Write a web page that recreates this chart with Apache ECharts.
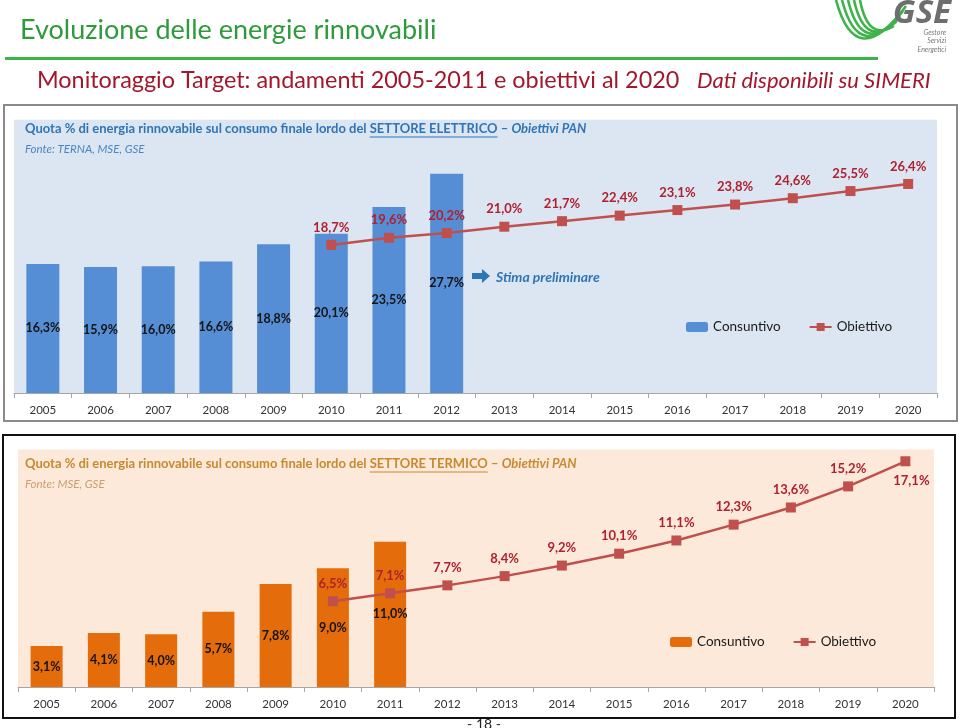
<!DOCTYPE html>
<html>
<head>
<meta charset="utf-8">
<script src="https://cdn.jsdelivr.net/npm/echarts@6/dist/echarts.min.js"></script>
<style>
html,body{margin:0;padding:0;background:#fff;}
#c{width:960px;height:728px;}
</style>
</head>
<body>
<div id="c"></div>
<script>
// ---- data ----
const years = ['2005','2006','2007','2008','2009','2010','2011','2012','2013','2014','2015','2016','2017','2018','2019','2020'];
const elecActual = [16.3, 15.9, 16.0, 16.6, 18.8, 20.1, 23.5, 27.7, null, null, null, null, null, null, null, null];
const elecTarget = [null, null, null, null, null, 18.7, 19.6, 20.2, 21.0, 21.7, 22.4, 23.1, 23.8, 24.6, 25.5, 26.4];
const heatActual = [3.1, 4.1, 4.0, 5.7, 7.8, 9.0, 11.0, null, null, null, null, null, null, null, null, null];
const heatTarget = [null, null, null, null, null, 6.5, 7.1, 7.7, 8.4, 9.2, 10.1, 11.1, 12.3, 13.6, 15.2, 17.1];

const FF = 'Lato, "Open Sans", sans-serif';
const fmt = v => (v == null ? '' : v.toFixed(1).replace('.', ',') + '%');

const mctx = document.createElement('canvas').getContext('2d');
function tw(t, font){ mctx.font = font; return mctx.measureText(t).width; }

function txt(x, y, text, font, fill, align, z){
  return {type:'text', x: x, y: y, z: z || 50,
    style:{text: text, font: font, fill: fill, align: align || 'left', verticalAlign:'middle', textAlign: align || 'left', textVerticalAlign:'middle'}};
}

function titleParts(x, y, sector, color, fonteText, fonteColor){
  const fB = 'bold 13px ' + FF;
  const fBI = 'italic bold 13px ' + FF;
  const p1 = 'Quota % di energia rinnovabile sul consumo finale lordo del ';
  const p2 = sector;
  const p3 = ' \u2013 ';
  const p4 = 'Obiettivi PAN';
  const w1 = tw(p1, fB), w2 = tw(p2, fB), w3 = tw(p3, fB);
  return [
    txt(x, y, p1, fB, color),
    txt(x + w1, y, p2, fB, color),
    {type:'line', z:50, shape:{x1: x + w1, y1: y + 8, x2: x + w1 + w2, y2: y + 8}, style:{stroke: color, lineWidth: 1}},
    txt(x + w1 + w2, y, p3, fB, color),
    txt(x + w1 + w2 + w3, y, p4, fBI, color),
    txt(x, y + 20, fonteText, 'italic 11.5px ' + FF, fonteColor)
  ];
}

// logo swooshes
const logo = [];
for (let i = 0; i < 5; i++) {
  logo.push({type:'bezierCurve', z: 40,
    shape:{x1: 836 + i*6, y1: 0, cpx1: 856 + i*3, cpy1: 74 - i*8, x2: 906 - i*3, y2: 6 + i*5},
    style:{stroke:'#3cb44a', lineWidth: 2.6, fill: null}});
}

const lineLabelColor = '#b0202e';

const heatTargetData = heatTarget.map((v, i) => {
  if (i === heatTarget.length - 1) {
    return {value: v, label: {position: 'bottom', offset: [6, 2]}};
  }
  return v;
});

const chart = echarts.init(document.getElementById('c'), null, {renderer: 'canvas'});
chart.setOption({
  backgroundColor: '#ffffff',
  animation: false,
  textStyle: {fontFamily: FF},
  grid: [
    {left: 14, width: 923, top: 119.8, height: 273.2, show: true, backgroundColor: '#dce6f2', borderWidth: 0},
    {left: 18, width: 916, top: 449.4, height: 237.6, show: true, backgroundColor: '#fde9d9', borderWidth: 0}
  ],
  xAxis: [
    {type: 'category', gridIndex: 0, data: years,
     axisLine: {lineStyle: {color: '#a6a6a6', width: 1}},
     axisTick: {show: true, length: 5, lineStyle: {color: '#a6a6a6'}},
     axisLabel: {color: '#333', fontSize: 11.5, margin: 11, fontFamily: FF}},
    {type: 'category', gridIndex: 1, data: years,
     axisLine: {lineStyle: {color: '#a6a6a6', width: 1}},
     axisTick: {show: true, length: 5, lineStyle: {color: '#a6a6a6'}},
     axisLabel: {color: '#333', fontSize: 11.5, margin: 11, fontFamily: FF}}
  ],
  yAxis: [
    {type: 'value', gridIndex: 0, min: 0, max: 34.5, show: false, splitLine: {show: false}},
    {type: 'value', gridIndex: 1, min: 0, max: 18, show: false, splitLine: {show: false}}
  ],
  legend: [
    {left: 686, top: 320, padding: 0, itemWidth: 22, itemHeight: 10, itemGap: 28,
     textStyle: {fontSize: 13.5, color: '#1a1a1a', fontFamily: FF},
     data: [{name: 'Consuntivo', itemStyle: {color: '#558ed5'}}, {name: 'Obiettivo'}]},
    {left: 670, top: 635, padding: 0, itemWidth: 22, itemHeight: 10, itemGap: 28,
     textStyle: {fontSize: 13.5, color: '#1a1a1a', fontFamily: FF},
     data: [{name: 'Consuntivo', itemStyle: {color: '#e46c0a'}}, {name: 'Obiettivo'}]}
  ],
  series: [
    {name: 'Consuntivo', type: 'bar', xAxisIndex: 0, yAxisIndex: 0, data: elecActual, barWidth: 33,
     itemStyle: {color: '#558ed5'},
     label: {show: true, position: 'inside', formatter: p => fmt(p.value), color: '#141414', fontWeight: 'bold', fontSize: 12.5, fontFamily: FF}},
    {name: 'Obiettivo', type: 'line', xAxisIndex: 0, yAxisIndex: 0, data: elecTarget,
     symbol: 'rect', symbolSize: 10, lineStyle: {color: '#c0504d', width: 2.5}, itemStyle: {color: '#c0504d'},
     label: {show: true, position: 'top', distance: 6, formatter: p => fmt(p.value), color: lineLabelColor, fontWeight: 'bold', fontSize: 13, fontFamily: FF}},
    {name: 'Consuntivo', type: 'bar', xAxisIndex: 1, yAxisIndex: 1, data: heatActual, barWidth: 32,
     itemStyle: {color: '#e46c0a'},
     label: {show: true, position: 'inside', formatter: p => fmt(p.value), color: '#141414', fontWeight: 'bold', fontSize: 12.5, fontFamily: FF}},
    {name: 'Obiettivo', type: 'line', xAxisIndex: 1, yAxisIndex: 1, data: heatTargetData,
     symbol: 'rect', symbolSize: 10, lineStyle: {color: '#c0504d', width: 2.5}, itemStyle: {color: '#c0504d'},
     label: {show: true, position: 'top', distance: 6, formatter: p => fmt(p.value), color: lineLabelColor, fontWeight: 'bold', fontSize: 13, fontFamily: FF}}
  ],
  graphic: [
    // page header
    txt(20, 30, 'Evoluzione delle energie rinnovabili', '27px ' + FF, '#2e9a3c'),
    {type: 'rect', shape: {x: 5, y: 57, width: 873, height: 3}, style: {fill: '#3cb44a'}},
    ...logo,
    txt(951, 14, 'GSE', 'italic bold 33px "Open Sans", sans-serif', '#6e6e6e', 'right'),
    txt(946, 33, 'Gestore', 'italic 7px ' + FF, '#777', 'right'),
    txt(946, 41, 'Servizi', 'italic 7px ' + FF, '#777', 'right'),
    txt(946, 50, 'Energetici', 'italic 7px ' + FF, '#777', 'right'),
    txt(37, 80, 'Monitoraggio Target: andamenti 2005-2011 e obiettivi al 2020', '23.4px ' + FF, '#a3172c'),
    txt(697, 81, 'Dati disponibili su SIMERI', 'italic 22px ' + FF, '#a3172c'),
    // frames
    {type: 'rect', z: 60, shape: {x: 4, y: 105, width: 953, height: 316}, style: {fill: null, stroke: '#8a8a8a', lineWidth: 2}},
    txt(484, 724, '- 18 -', '14px ' + FF, '#222', 'center', 10),
    {type: 'rect', z: 60, shape: {x: 3, y: 435, width: 952, height: 283}, style: {fill: null, stroke: '#111', lineWidth: 2}},
    // chart titles
    ...titleParts(25, 129, 'SETTORE ELETTRICO', '#2f75b5', 'Fonte: TERNA, MSE, GSE', '#4a86c4'),
    ...titleParts(25, 464, 'SETTORE TERMICO', '#c8892f', 'Fonte: MSE, GSE', '#c9a070'),
    // stima preliminare
    {type: 'polygon', z: 50, shape: {points: [[472, 273], [482, 273], [482, 269], [490, 276], [482, 283], [482, 279], [472, 279]]}, style: {fill: '#2e75b6'}},
    txt(496, 277, 'Stima preliminare', 'italic bold 14px ' + FF, '#2e75b6')
  ]
});
</script>
</body>
</html>
